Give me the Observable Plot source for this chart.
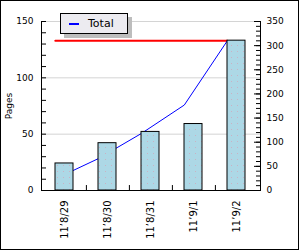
<!DOCTYPE html>
<html>
<head>
<meta charset="utf-8">
<script src="https://cdn.jsdelivr.net/npm/d3@7"></script>
<script src="https://cdn.jsdelivr.net/npm/@observablehq/plot@0.6"></script>
<style>
  body { margin: 0; background: #fff; }
  #wrap { position: relative; width: 300px; height: 250px; overflow: hidden; background: #fff; font-family: "DejaVu Sans", sans-serif; }
  #wrap svg { position: absolute; left: 0; top: 0; }
  #border { position: absolute; left: 0; top: 0; width: 297px; height: 248px; border: 1px solid #000; pointer-events: none; }
  #legend { position: absolute; left: 60px; top: 13px; width: 66px; height: 19px; border: 1px solid #000; background: #ecebf0; box-shadow: 4px 4px 0 #bdbdbd; }
  #legend .sw { position: absolute; left: 8px; top: 9px; width: 10px; height: 2px; background: #0000ff; }
  #legend .lb { position: absolute; left: 27px; top: 3px; font-size: 11px; line-height: 13px; color: #000; white-space: nowrap; }
</style>
</head>
<body>
<div id="wrap">
  <div id="border"></div>
</div>
<script>
// ---- data ----
const dates = ["11’8/29", "11’8/30", "11’8/31", "11’9/1", "11’9/2"];
const pages = [24, 42, 52, 59, 133];          // bars, left axis (Pages)
const totals = [24, 66, 118, 177, 310];       // "Total" line, right axis
const target = 310;                           // red horizontal line, right axis
const leftTicks = [0, 50, 100, 150];
const rightTicks = [0, 50, 100, 150, 200, 250, 300, 350];
const leftMax = 150, rightMax = 350;
const legendLabel = "Total";
const yLabel = "Pages";

// right-axis values expressed in left-axis units (single y scale)
const toLeft = v => v * leftMax / rightMax;
const data = dates.map((d, i) => ({date: d, pages: pages[i], total: toLeft(totals[i])}));
const targetLine = [{date: dates[0], v: toLeft(target)}, {date: dates[dates.length - 1], v: toLeft(target)}];
const leftMinor = d3.range(0, leftMax + 1, 10);
const rightMinor = d3.range(0, rightMax + 1, 10).map(toLeft);
const rightMajor = rightTicks.map(toLeft);

const W = 300, H = 250, mL = 41, mR = 40, mT = 21, mB = 60;
const innerW = W - mL - mR;
const padIn = 0.58, padOut = 0.29;
const step = innerW / (dates.length - padIn + 2 * padOut);
const bw = step * (1 - padIn);

const chart = Plot.plot({
  width: W, height: H,
  marginLeft: mL, marginRight: mR, marginTop: mT, marginBottom: mB,
  style: {fontFamily: '"DejaVu Sans", sans-serif', fontSize: "9px", background: "transparent", color: "#000"},
  x: {type: "band", domain: dates, paddingInner: padIn, paddingOuter: padOut, axis: null},
  y: {domain: [0, leftMax], axis: null},
  marks: [
    Plot.gridY(leftTicks.filter(d => d > 0), {stroke: "#d4d4d4", strokeOpacity: 1}),
    Plot.lineY(targetLine, {x: "date", y: "v", stroke: "#ff0000", strokeWidth: 2, dx: -bw / 2}),
    Plot.lineY(data, {x: "date", y: "total", stroke: "#0000ff", strokeWidth: 1, dx: -bw / 2}),
    Plot.barY(data, {x: "date", y: "pages", fill: "url(#dots)", stroke: "#000", strokeWidth: 1}),
    Plot.ruleY(leftMinor, {stroke: "#000", insetRight: innerW - 5}),
    Plot.ruleY(rightMinor, {stroke: "#000", insetLeft: innerW - 4}),
    Plot.ruleY(rightMajor, {stroke: "#000", insetLeft: innerW - 6}),
    Plot.ruleX(dates.slice(0, -1), {stroke: "#000", dx: step / 2, y1: 0, y2: 4.4}),
    Plot.frame({anchor: "left", stroke: "#000"}),
    Plot.frame({anchor: "right", stroke: "#000"}),
    Plot.frame({anchor: "bottom", stroke: "#000"}),
    Plot.axisY(leftTicks, {anchor: "left", tickSize: 0, tickPadding: 8, label: yLabel, labelAnchor: "center", labelOffset: 36, labelArrow: "none", fontSize: 9}),
    Plot.axisY(rightMajor, {anchor: "right", tickSize: 0, tickPadding: 6, tickFormat: d => Math.round(d * rightMax / leftMax), label: null, fontSize: 9}),
    Plot.axisX({tickRotate: -90, tickSize: 0, tickPadding: 10, label: null, fontSize: 10})
  ]
});

// dotted fill pattern for the bars
const ns = "http://www.w3.org/2000/svg";
const defs = document.createElementNS(ns, "defs");
defs.innerHTML = '<pattern id="dots" width="6" height="6" patternUnits="userSpaceOnUse">' +
  '<rect width="6" height="6" fill="#add8e6"></rect>' +
  '<rect x="3" y="3" width="1" height="1" fill="#c9b2c4"></rect></pattern>';
chart.insertBefore(defs, chart.firstChild);

const wrap = document.getElementById("wrap");
wrap.insertBefore(chart, wrap.firstChild);

const legend = document.createElement("div");
legend.id = "legend";
legend.innerHTML = '<div class="sw"></div><div class="lb"></div>';
legend.querySelector(".lb").textContent = legendLabel;
wrap.appendChild(legend);
</script>
</body>
</html>
